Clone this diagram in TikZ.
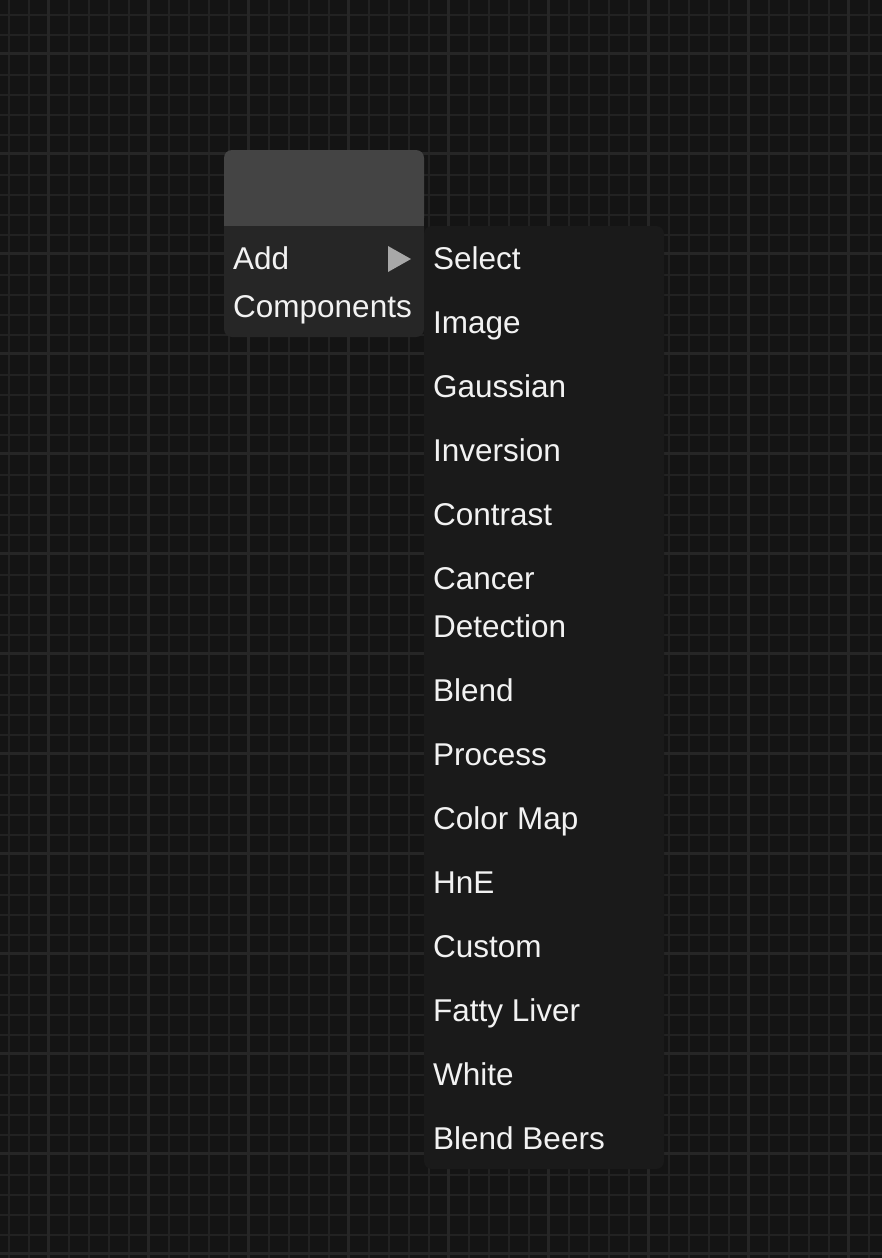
\documentclass[tikz,border=0pt]{standalone}
\usepackage{fontspec}
\setmainfont{Liberation Sans}
\definecolor{bg}{HTML}{141414}
\definecolor{gridthin}{HTML}{222222}
\definecolor{gridthick}{HTML}{262626}
\definecolor{nodehead}{HTML}{444444}
\definecolor{nodebody}{HTML}{262626}
\definecolor{menubg}{HTML}{1A1A1A}
\definecolor{tri}{HTML}{A8A8A8}
\definecolor{txt}{HTML}{F2F2F2}
\begin{document}
\begin{tikzpicture}[x=1pt,y=-1pt,
  lbl/.style={anchor=base west,inner sep=0pt,text=txt,font=\fontsize{31.5}{36}\selectfont},
  thin/.style={draw=gridthin,line width=1.6pt},
  thick/.style={draw=gridthick,line width=3pt}]
\useasboundingbox (0,0) rectangle (882,1258);
\fill[bg] (0,0) rectangle (882,1258);
% grid
\foreach \i in {0,...,43}{
  \pgfmathtruncatemacro{\xx}{9+20*\i}
  \pgfmathtruncatemacro{\m}{mod(\i,5)}
  \ifnum\m=2\relax\else\draw[thin] (\xx,0) -- (\xx,1258);\fi
}
\foreach \i in {0,...,62}{
  \pgfmathtruncatemacro{\yy}{15+20*\i}
  \pgfmathtruncatemacro{\m}{mod(\i,5)}
  \ifnum\m=2\relax\else\draw[thin] (0,\yy) -- (882,\yy);\fi
}
\foreach \xx in {48,148,...,848}{\draw[thick] (\xx,0) -- (\xx,1258);}
\foreach \yy in {53,153,...,1253}{\draw[thick] (0,\yy) -- (882,\yy);}
% node
\fill[nodehead,rounded corners=8pt] (224,226) -- (224,150) -- (424,150) -- (424,226) -- cycle;
\fill[nodebody,rounded corners=8pt] (224,220) -- (224,337) -- (424,337) -- (424,220) -- cycle;
\fill[nodebody] (224,226) rectangle (424,240);
\fill[nodehead] (224,214) rectangle (424,226);
% menu
\fill[menubg,rounded corners=8pt] (424,226) rectangle (664,1169);
% triangle
\fill[tri] (388,246) -- (411,259) -- (388,272) -- cycle;
% labels
\node[lbl] (add) at (233,269) {Add};
\node[lbl] (components) at (233,317) {Components};
\node[lbl] (select) at (433,269) {Select};
\node[lbl] (image) at (433,333) {Image};
\node[lbl] (gaussian) at (433,397) {Gaussian};
\node[lbl] (inversion) at (433,461) {Inversion};
\node[lbl] (contrast) at (433,525) {Contrast};
\node[lbl] (cancer) at (433,589) {Cancer};
\node[lbl] (detection) at (433,637) {Detection};
\node[lbl] (blend) at (433,701) {Blend};
\node[lbl] (process) at (433,765) {Process};
\node[lbl] (colormap) at (433,829) {Color Map};
\node[lbl] (hne) at (433,893) {HnE};
\node[lbl] (custom) at (433,957) {Custom};
\node[lbl] (fatty) at (433,1021) {Fatty Liver};
\node[lbl] (white) at (433,1085) {White};
\node[lbl] (blendbeers) at (433,1149) {Blend Beers};
\end{tikzpicture}
\end{document}
